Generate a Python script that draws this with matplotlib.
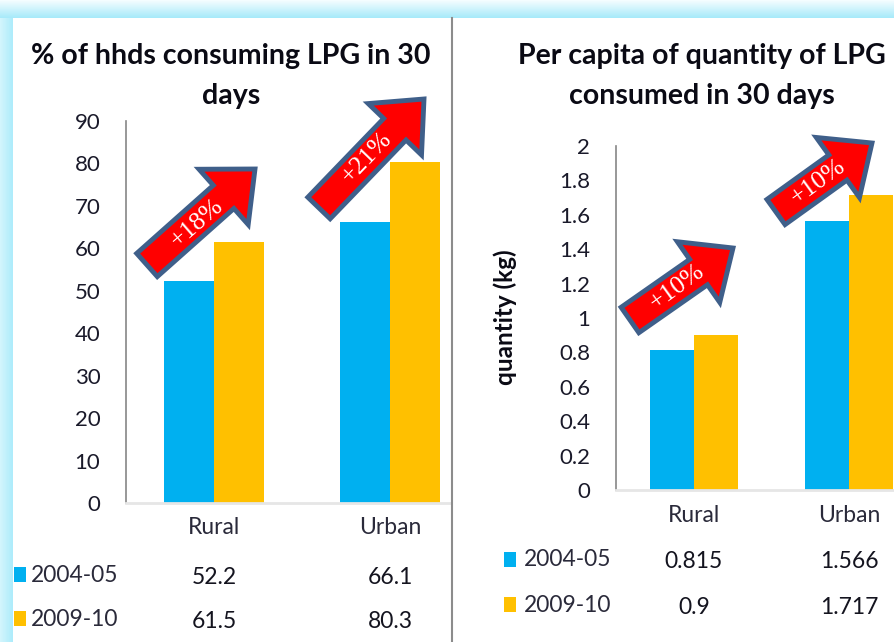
import numpy as np
import matplotlib
matplotlib.use('Agg')
import matplotlib.pyplot as plt
from matplotlib.patches import FancyArrow, Rectangle

plt.rcParams['font.family'] = ['Lato', 'DejaVu Sans']

categories = ['Rural', 'Urban']
periods = ['2004-05', '2009-10']
hhds_0405 = [52.2, 66.1]
hhds_0910 = [61.5, 80.3]
qty_0405 = [0.815, 1.566]
qty_0910 = [0.9, 1.717]
hhds_ticks = [0, 10, 20, 30, 40, 50, 60, 70, 80, 90]
qty_ticks = [0, 0.2, 0.4, 0.6, 0.8, 1, 1.2, 1.4, 1.6, 1.8, 2]
qty_ticklabels = ['0', '0.2', '0.4', '0.6', '0.8', '1', '1.2', '1.4', '1.6', '1.8', '2']
hhds_change = ['+18%', '+21%']
qty_change = ['+10%', '+10%']

BLUE = '#00B0F0'
GOLD = '#FFC000'
W, H = 895, 642

fig = plt.figure(figsize=(W / 100, H / 100), dpi=100, facecolor='white')


def make_axes(x0, x1, ytop, ybot):
    return fig.add_axes([x0 / W, 1 - ybot / H, (x1 - x0) / W, (ybot - ytop) / H])


def draw_bars(ax, a, b, xmax, ymax, ticks, ticklabels):
    x = np.arange(len(categories))
    wd = 0.284
    ax.bar(x - wd / 2, a, wd, color=BLUE)
    ax.bar(x + wd / 2, b, wd, color=GOLD)
    ax.set_xlim(-0.5, xmax)
    ax.set_ylim(0, ymax)
    ax.set_yticks(ticks)
    ax.set_yticklabels(ticklabels, fontsize=16, color='#1a1a2a')
    ax.set_xticks([])
    ax.tick_params(axis='y', length=0, pad=18.5)
    ax.spines['top'].set_visible(False)
    ax.spines['right'].set_visible(False)
    ax.spines['left'].set_color('#868686')
    ax.spines['left'].set_linewidth(1.2)
    ax.spines['bottom'].set_color('#E6E6E6')
    ax.spines['bottom'].set_linewidth(2)


ax1 = make_axes(126, 451, 121, 503)
draw_bars(ax1, hhds_0405, hhds_0910, 1.347, 90, hhds_ticks, [str(t) for t in hhds_ticks])
ax2 = make_axes(616, 895, 146, 490)
draw_bars(ax2, qty_0405, qty_0910, 1.297, 2, qty_ticks, qty_ticklabels)

# overlay in image pixels, for the frame, arrows and the little table
ov = fig.add_axes([0, 0, 1, 1], facecolor='none')
ov.axis('off')

top_band = np.linspace(0, 1, 18).reshape(-1, 1)
left_band = np.linspace(0, 1, 13).reshape(1, -1)
cm = matplotlib.colors.LinearSegmentedColormap.from_list('band', ['#F4FDFF', '#A8EAFA'])
cm2 = matplotlib.colors.LinearSegmentedColormap.from_list('band2', ['#D2F5FD', '#AEECFB'])
ov.imshow(top_band, extent=(0, W, 18, 0), cmap=cm, aspect='auto', vmin=0, vmax=1)
ov.imshow(left_band, extent=(0, 13, H, 18), cmap=cm2, aspect='auto', vmin=0, vmax=1)
ov.set_xlim(0, W)
ov.set_ylim(H, 0)
ov.plot([452, 452], [18, H], color='#8C8C8C', lw=1.5)


def arrow(tail, tip, label, label_xy, rot):
    dx, dy = tip[0] - tail[0], tip[1] - tail[1]
    ov.add_patch(FancyArrow(tail[0], tail[1], dx, dy, width=31, head_width=74, head_length=42,
                            length_includes_head=True, fc='#FF0000', ec='#3F5F8A', lw=3.5,
                            joinstyle='miter'))
    ov.text(label_xy[0], label_xy[1], label, color='white', fontsize=18.5, rotation=rot,
            family='Liberation Serif', ha='center', va='center', rotation_mode='anchor')


arrow((147, 265), (255, 169), hhds_change[0], (197, 223), 41)
arrow((319, 208), (424, 99), hhds_change[1], (367, 158), 46)
arrow((630, 320), (733, 248), qty_change[0], (677, 287), 36)
arrow((776, 212), (872, 143), qty_change[1], (818, 182), 36)

title_kw = dict(fontsize=20.5, fontweight='bold', ha='center', va='center', color='#0a0a14')
ov.text(231, 56, '% of hhds consuming LPG in 30', **title_kw)
ov.text(231, 96, 'days', **title_kw)
ov.text(702, 56, 'Per capita of quantity of LPG', **title_kw)
ov.text(702, 96, 'consumed in 30 days', **title_kw)
ov.text(505, 317, 'quantity (kg)', fontsize=17.5, fontweight='bold', rotation=90, ha='center', va='center', color='#0a0a14')


def table(cx, cat_y, rows_y, a, b, sq_x, text_x, fmt):
    for c, xc in zip(categories, cx):
        ov.text(xc, cat_y, c, fontsize=16.5, ha='center', va='center', color='#2a2a3a')
    for per, col, vals, y in zip(periods, [BLUE, GOLD], [a, b], rows_y):
        ov.add_patch(Rectangle((sq_x, y - 8), 12.5, 15, fc=col, ec='none'))
        ov.text(text_x, y, per, fontsize=16.4, ha='left', va='center', color='#2a2a3a')
        for v, xc in zip(vals, cx):
            ov.text(xc, y + 2, fmt % v if fmt else str(v), fontsize=16.5, ha='center', va='center', color='#14141f')


table([214, 390], 528, [575, 619], hhds_0405, hhds_0910, 14, 31, '%.1f')
table([694, 849], 516, [560, 605], qty_0405, qty_0910, 504, 524, None)

fig.savefig('out.png', dpi=100)
